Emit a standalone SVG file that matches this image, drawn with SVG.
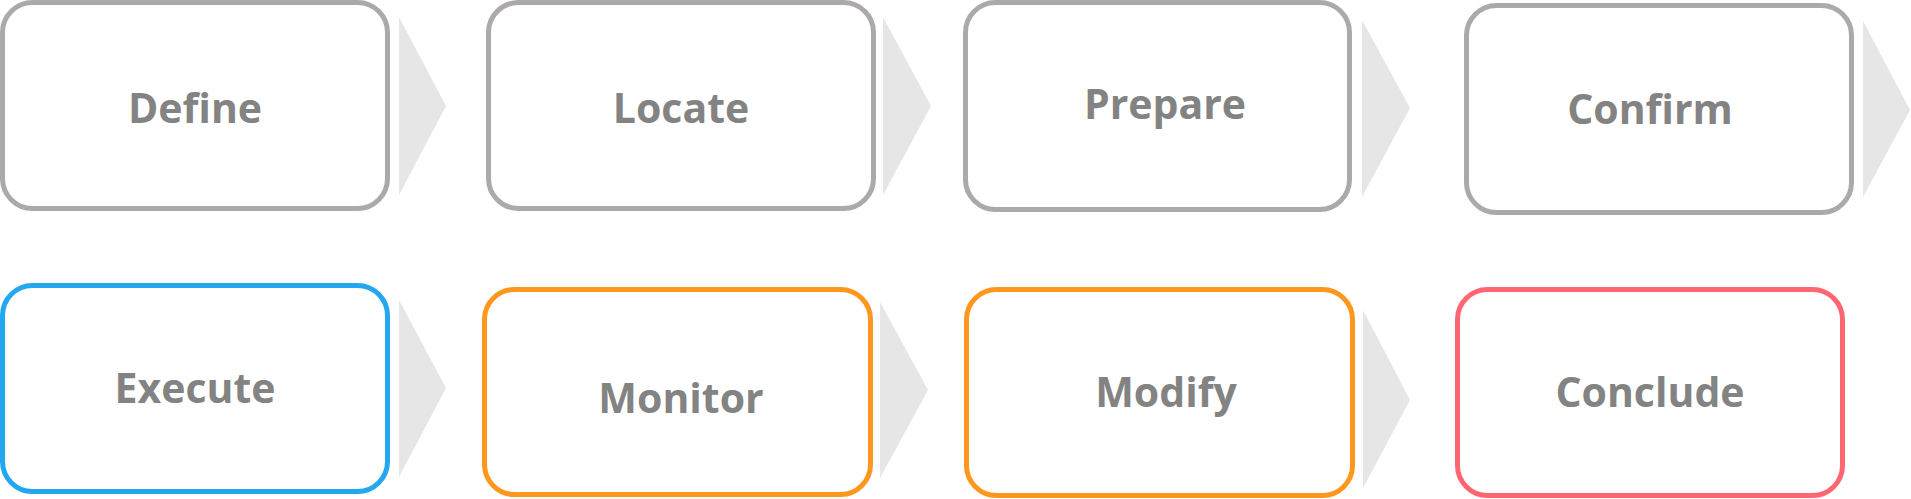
<svg xmlns="http://www.w3.org/2000/svg" width="1911" height="499" viewBox="0 0 1911 499">
<style>
.box{fill:#ffffff;stroke-width:5}
.g{stroke:#ADA9A9}
.b{stroke:#22A7F0}
.o{stroke:#FF961E}
.r{stroke:#FF6670}
.lbl{font-family:"Open Sans","Noto Sans","Liberation Sans",sans-serif;font-weight:bold;font-size:41px;fill:#838383;text-anchor:middle}
.arr{fill:#E6E6E6}
</style>
<rect width="1911" height="499" fill="#ffffff"/>
<g id="connectors">
<polygon class="arr" points="399,17 446,106 399,195"/>
<polygon class="arr" points="883,17 931,106 883,195"/>
<polygon class="arr" points="1362,20 1410,108 1362,197"/>
<polygon class="arr" points="1863,21 1910,110 1863,197"/>
<polygon class="arr" points="399,300 446,388 399,477"/>
<polygon class="arr" points="880,302 928,390 880,478"/>
<polygon class="arr" points="1363,310 1410,400 1363,488"/>
</g>
<g id="define"><rect class="box g" x="2.5" y="2.5" width="385" height="206" rx="30"/><text class="lbl" x="195" y="123">Define</text></g>
<g id="locate"><rect class="box g" x="488.5" y="2.5" width="385" height="206" rx="30"/><text class="lbl" x="681" y="123">Locate</text></g>
<g id="prepare"><rect class="box g" x="965.5" y="2.5" width="384" height="207" rx="30"/><text class="lbl" x="1165" y="119">Prepare</text></g>
<g id="confirm"><rect class="box g" x="1466.5" y="5.5" width="385" height="207" rx="30"/><text class="lbl" x="1650" y="124">Confirm</text></g>
<g id="execute"><rect class="box b" x="2.5" y="285.5" width="385" height="206" rx="30"/><text class="lbl" x="195" y="403">Execute</text></g>
<g id="monitor"><rect class="box o" x="484.5" y="289.5" width="386" height="205" rx="30"/><text class="lbl" x="681" y="413">Monitor</text></g>
<g id="modify"><rect class="box o" x="966.5" y="289.5" width="386" height="206" rx="30"/><text class="lbl" x="1166" y="407">Modify</text></g>
<g id="conclude"><rect class="box r" x="1457.5" y="289.5" width="385" height="206" rx="30"/><text class="lbl" x="1650" y="407">Conclude</text></g>
</svg>
